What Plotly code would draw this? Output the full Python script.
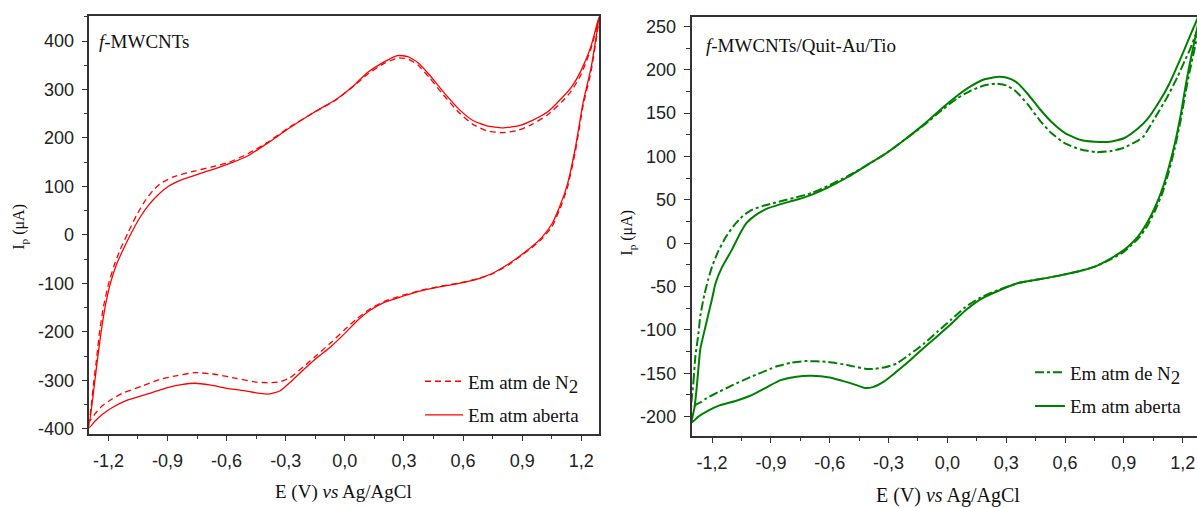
import plotly.graph_objects as go

RED = "#ff0000"
GREEN = "#008000"
AXIS = "#333333"
SERIF = "Liberation Serif, Times New Roman, serif"
SANS = "Liberation Sans, Arial, sans-serif"

# ---- Panel A: f-MWCNTs (potential in V, current in uA) ----
E_A_N2 = [-1.297, -1.287, -1.275, -1.26, -1.245, -1.225, -1.2, -1.172, -1.14, -1.10, -1.058,
          -1.015, -0.975, -0.936, -0.87, -0.78, -0.68, -0.587, -0.49, -0.392, -0.29, -0.16,
          -0.043, 0.05, 0.12, 0.20, 0.27, 0.32, 0.37, 0.43, 0.50, 0.58, 0.65, 0.72, 0.80,
          0.88, 0.95, 1.03, 1.10, 1.15, 1.20, 1.25, 1.29,
          1.25, 1.21, 1.17, 1.13, 1.09, 1.05, 1.00, 0.95, 0.90, 0.83, 0.75, 0.68, 0.58,
          0.48, 0.38, 0.29, 0.20, 0.13, 0.06, 0.00, -0.07, -0.14, -0.21, -0.28, -0.33,
          -0.39, -0.46, -0.55, -0.65, -0.76, -0.85, -0.94, -1.03, -1.12, -1.18, -1.23,
          -1.27, -1.297]
I_A_N2 = [-385, -352, -305, -255, -200, -148, -102, -64, -30, 5, 40,
          70, 91, 106, 120, 130, 140, 150, 168, 191, 220, 252,
          279, 309, 333, 354, 365, 363, 351, 324, 289, 252, 228, 215, 211,
          216, 228, 248, 274, 297, 332, 385, 445,
          338, 268, 172, 98, 52, 16, -8, -26, -41, -62, -80, -90, -99,
          -106, -115, -125, -137, -152, -173, -195, -222, -247, -272, -295, -303,
          -305, -303, -296, -288, -284, -290, -298, -312, -325, -338, -352,
          -370, -385]

E_A_AB = [-1.297, -1.285, -1.27, -1.255, -1.237, -1.215, -1.19, -1.16, -1.125, -1.085, -1.04,
          -0.995, -0.955, -0.897, -0.82, -0.74, -0.664, -0.58, -0.489, -0.39, -0.276, -0.16,
          -0.043, 0.05, 0.112, 0.20, 0.268, 0.32, 0.37, 0.43, 0.50, 0.58, 0.65, 0.72, 0.80,
          0.88, 0.95, 1.03, 1.10, 1.15, 1.20, 1.25, 1.29,
          1.25, 1.21, 1.17, 1.13, 1.09, 1.05, 1.00, 0.95, 0.90, 0.83, 0.75, 0.68, 0.58,
          0.48, 0.38, 0.29, 0.20, 0.13, 0.06, 0.00, -0.07, -0.14, -0.21, -0.28, -0.33,
          -0.38, -0.43, -0.50, -0.59, -0.68, -0.76, -0.83, -0.90, -1.00, -1.11, -1.18,
          -1.23, -1.27, -1.297]
I_A_AB = [-398, -355, -305, -255, -200, -145, -100, -62, -30, 3, 36,
          62, 80, 100, 115, 126, 136, 148, 164, 190, 222, 252,
          280, 310, 334, 357, 370, 368, 356, 330, 295, 259, 236, 225, 221,
          225, 236, 254, 282, 305, 340, 390, 450,
          345, 275, 180, 105, 58, 22, -5, -24, -40, -60, -79, -90, -100,
          -107, -116, -127, -139, -155, -178, -203, -230, -253, -278, -305, -322,
          -328, -327, -322, -317, -310, -306, -309, -315, -328, -342, -356,
          -370, -385, -398]

# ---- Panel B: f-MWCNTs/Quit-Au/Tio ----
E_B_N2 = [-1.305, -1.295, -1.285, -1.27, -1.26, -1.24, -1.22, -1.20, -1.17, -1.13, -1.09,
          -1.045, -1.00, -0.94, -0.889, -0.84, -0.77, -0.69, -0.61, -0.51, -0.41, -0.31,
          -0.22, -0.12, -0.02, 0.05, 0.12, 0.19, 0.25, 0.30, 0.35, 0.41, 0.47, 0.53, 0.60,
          0.68, 0.76, 0.83, 0.90, 0.97, 1.00, 1.06, 1.12, 1.172, 1.21, 1.24, 1.27, 1.30,
          1.274, 1.25, 1.23, 1.21, 1.19, 1.16, 1.13, 1.10, 1.06, 1.02, 0.98, 0.94, 0.90,
          0.83, 0.752, 0.66, 0.557, 0.46, 0.362, 0.27, 0.166, 0.09, 0.02, -0.05, -0.12,
          -0.19, -0.26, -0.317, -0.37, -0.414, -0.50, -0.61, -0.727, -0.80, -0.87, -0.903,
          -1.00, -1.098, -1.17, -1.23, -1.255, -1.28, -1.305]
I_B_N2 = [-190, -160, -130, -105, -84, -60, -42, -27, -10, 7, 20,
          31, 38, 43, 46, 49, 53, 58, 66, 77, 90, 104,
          119, 136, 155, 167, 176, 182, 184, 182, 175, 160, 142, 127, 115,
          108, 105, 106, 110, 118, 123, 145, 168, 191, 210, 225, 243, 262,
          238, 213, 192, 168, 142, 110, 83, 60, 38, 20, 7, -2, -10,
          -19, -27, -33, -38, -42, -46, -53, -63, -74, -88, -102, -116,
          -128, -139, -143, -145, -145, -141, -137, -136, -138, -142, -145,
          -154, -164, -172, -179, -183, -186, -190]

E_B_AB = [-1.305, -1.29, -1.279, -1.27, -1.26, -1.24, -1.221, -1.20, -1.182, -1.15, -1.10,
          -1.06, -1.025, -0.98, -0.928, -0.85, -0.77, -0.69, -0.61, -0.51, -0.41, -0.31,
          -0.22, -0.12, -0.02, 0.05, 0.12, 0.19, 0.264, 0.30, 0.35, 0.41, 0.47, 0.53, 0.60,
          0.68, 0.752, 0.83, 0.90, 0.97, 1.02, 1.08, 1.13, 1.17, 1.21, 1.245, 1.275, 1.30,
          1.274, 1.25, 1.23, 1.21, 1.19, 1.16, 1.13, 1.10, 1.06, 1.02, 0.98, 0.94, 0.90,
          0.83, 0.752, 0.66, 0.557, 0.46, 0.362, 0.27, 0.166, 0.09, 0.01, -0.06, -0.127,
          -0.19, -0.264, -0.32, -0.381, -0.42, -0.46, -0.517, -0.60, -0.693, -0.77, -0.85,
          -0.92, -1.006, -1.08, -1.162, -1.22, -1.27, -1.305]
I_B_AB = [-207, -190, -168, -145, -122, -102, -84, -64, -46, -28, -8,
          10, 23, 32, 39, 45, 50, 56, 64, 76, 90, 104,
          119, 137, 157, 170, 181, 189, 192, 191, 186, 172, 155, 140, 127,
          119, 117, 117, 121, 132, 143, 163, 183, 203, 224, 243, 259, 278,
          248, 222, 200, 175, 148, 115, 88, 65, 42, 24, 10, 0, -8,
          -18, -27, -33, -38, -42, -46, -54, -65, -78, -95, -109, -122,
          -135, -149, -159, -166, -167, -164, -160, -155, -153, -154, -158,
          -166, -176, -182, -187, -193, -200, -207]

# ---- Tick labels (comma decimal separator) ----
X_TICKS = [-1.2, -0.9, -0.6, -0.3, 0.0, 0.3, 0.6, 0.9, 1.2]
X_LABELS = ["-1,2", "-0,9", "-0,6", "-0,3", "0,0", "0,3", "0,6", "0,9", "1,2"]
YA_TICKS = [-400, -300, -200, -100, 0, 100, 200, 300, 400]
YA_LABELS = ["-400", "-300", "-200", "-100", "0", "100", "200", "300", "400"]
YB_TICKS = [-200, -150, -100, -50, 0, 50, 100, 150, 200, 250]
YB_LABELS = ["-200", "-150", "-100", "-50", "0", "50", "100", "150", "200", "250"]

LEG_N2 = "Em atm de N<sub><span style='font-size:19px'>2</span></sub>"
LEG_AB = "Em atm aberta"

fig = go.Figure()

fig.add_trace(go.Scatter(
    x=E_A_N2, y=I_A_N2, mode="lines", name=LEG_N2, xaxis="x", yaxis="y",
    legend="legend", legendgroup="a1",
    line=dict(color=RED, width=1.3, dash="6px,4px", shape="spline", smoothing=0.5)))
fig.add_trace(go.Scatter(
    x=E_A_AB, y=I_A_AB, mode="lines", name=LEG_AB, xaxis="x", yaxis="y",
    legend="legend", legendgroup="a2",
    line=dict(color=RED, width=1.3, shape="spline", smoothing=0.5)))
fig.add_trace(go.Scatter(
    x=E_B_N2, y=I_B_N2, mode="lines", name=LEG_N2, xaxis="x2", yaxis="y2",
    legend="legend2", legendgroup="b1",
    line=dict(color=GREEN, width=2, dash="9px,3px,3px,3px", shape="spline", smoothing=0.5)))
fig.add_trace(go.Scatter(
    x=E_B_AB, y=I_B_AB, mode="lines", name=LEG_AB, xaxis="x2", yaxis="y2",
    legend="legend2", legendgroup="b2",
    line=dict(color=GREEN, width=2, shape="spline", smoothing=0.5)))

W, H = 1197, 508


def px_x(p):
    return p / W


def px_y(p):
    return (H - p) / H


common = dict(
    showline=True, linecolor=AXIS, linewidth=1.5,
    ticks="outside", ticklen=6, tickwidth=1.3, tickcolor=AXIS,
    tickfont=dict(family=SANS, size=18, color="#222222"),
    showgrid=False, zeroline=False, tickmode="array", ticklabelstandoff=4,
)
minor_x = dict(dtick=0.15, tick0=0, ticks="outside", ticklen=4, tickwidth=1.2, tickcolor=AXIS)

legend_common = dict(
    font=dict(family=SERIF, size=19, color="#111111"),
    bgcolor="rgba(0,0,0,0)", borderwidth=0, xanchor="left", yanchor="top",
    traceorder="grouped", tracegroupgap=6,
)

fig.update_layout(
    width=W, height=H, margin=dict(l=0, r=0, t=0, b=0),
    paper_bgcolor="white", plot_bgcolor="white",
    xaxis=dict(domain=[px_x(89.3), px_x(599)], range=[-1.297, 1.29], anchor="y",
               tickvals=X_TICKS, ticktext=X_LABELS, mirror=True, minor=minor_x, **common),
    yaxis=dict(domain=[px_y(438), px_y(16)], range=[-410, 452], anchor="x",
               tickvals=YA_TICKS, ticktext=YA_LABELS, mirror=True,
               minor=dict(dtick=50, tick0=0, ticks="outside", ticklen=4, tickwidth=1.2, tickcolor=AXIS),
               **common),
    xaxis2=dict(domain=[px_x(691.5), 1.0], range=[-1.305, 1.273], anchor="y2",
                tickvals=X_TICKS, ticktext=X_LABELS, mirror=True, minor=minor_x, **common),
    yaxis2=dict(domain=[px_y(440), px_y(17)], range=[-222, 261], anchor="x2",
                tickvals=YB_TICKS, ticktext=YB_LABELS,
                minor=dict(dtick=25, tick0=0, ticks="outside", ticklen=4, tickwidth=1.2, tickcolor=AXIS),
                **common),
    legend=dict(x=px_x(420), y=px_y(366), itemwidth=38, **legend_common),
    legend2=dict(x=px_x(1030), y=px_y(357), itemwidth=30, **legend_common),
    showlegend=True,
)

notes = [
    dict(text="<i>f</i>-MWCNTs", x=px_x(96.5), y=px_y(41.7), xanchor="left", yanchor="middle",
         font=dict(family=SERIF, size=19, color="#111111")),
    dict(text="<i>f</i>-MWCNTs/Quit-Au/Tio", x=px_x(704), y=px_y(45.7), xanchor="left",
         yanchor="middle", font=dict(family=SERIF, size=19, color="#111111")),
    dict(text="E (V) <i>vs</i> Ag/AgCl", x=px_x(343), y=px_y(496.7), xanchor="center",
         yanchor="middle", font=dict(family=SERIF, size=19, color="#111111")),
    dict(text="E (V) <i>vs</i> Ag/AgCl", x=px_x(948), y=px_y(500), xanchor="center",
         yanchor="middle", font=dict(family=SERIF, size=20, color="#111111")),
    dict(text="I<sub>p</sub> (μA)", x=px_x(20), y=px_y(229), textangle=-90, xanchor="center",
         yanchor="middle", font=dict(family=SERIF, size=16, color="#111111")),
    dict(text="I<sub>p</sub> (μA)", x=px_x(628), y=px_y(235), textangle=-90, xanchor="center",
         yanchor="middle", font=dict(family=SERIF, size=16, color="#111111")),
]
for n in notes:
    fig.add_annotation(xref="paper", yref="paper", showarrow=False, **n)

fig.write_html("out.html")
